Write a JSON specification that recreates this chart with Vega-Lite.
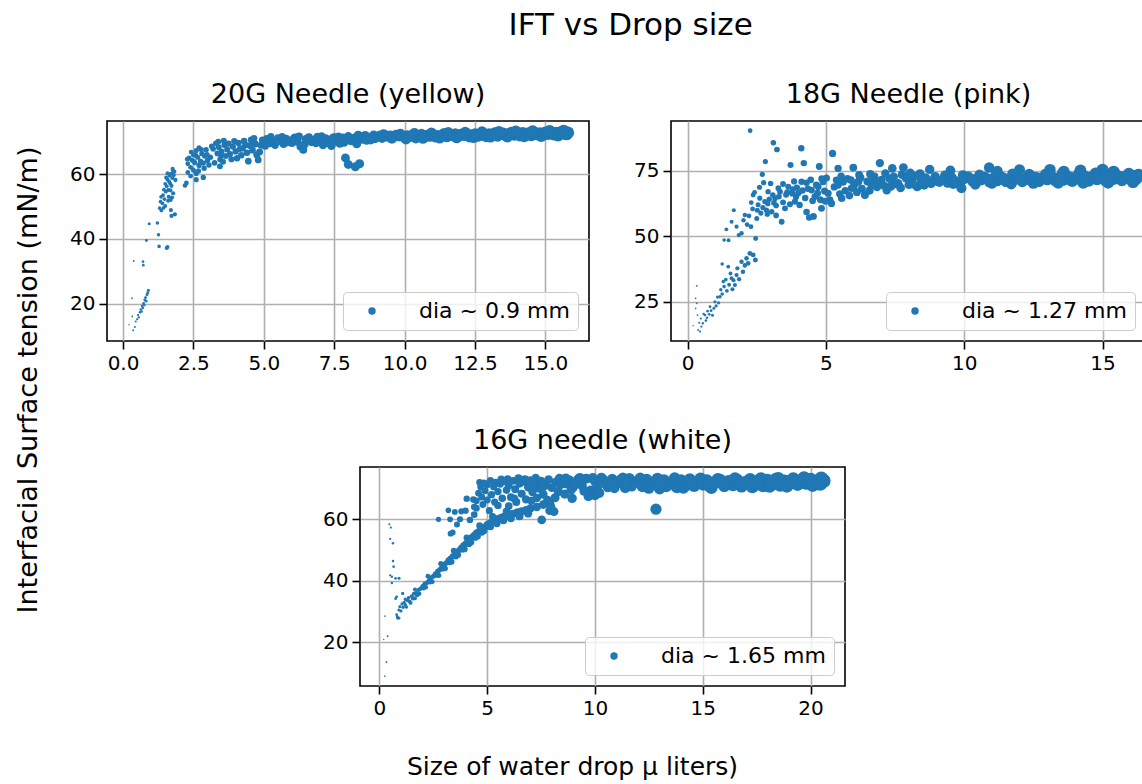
{
"$schema": "https://vega.github.io/schema/vega-lite/v6.json",
"padding": {"top": 10, "left": 0, "right": 0, "bottom": 0},
"background": "white",
"title": {"text": "IFT vs Drop size", "fontSize": 31, "fontWeight": "normal", "anchor": "middle", "dx": 57, "offset": 38},
"config": {
 "font": "DejaVu Sans",
 "view": {"stroke": "#000000", "strokeWidth": 1.6},
 "axis": {"domain": false, "grid": true, "gridColor": "#b0b0b0", "gridWidth": 1.6, "tickColor": "#000000", "tickSize": 8, "tickWidth": 1.6, "labelFontSize": 20, "labelColor": "#000000", "labelPadding": 4, "zindex": 1, "labelFlush": false, "labelOverlap": false, "titleFontSize": 25, "titleFontWeight": "normal", "titleColor": "#000000"},
 "title": {"fontSize": 27, "fontWeight": "normal", "color": "#000000", "offset": 12},
 "legend": {"orient": "bottom-right", "offset": 11, "padding": 8, "fillColor": "rgba(255,255,255,0.8)", "strokeColor": "#cccccc", "cornerRadius": 4, "labelFontSize": 22, "labelColor": "#000000", "labelLimit": 400, "symbolSize": 55, "symbolType": "circle", "symbolOffset": 10, "labelOffset": 36, "symbolStrokeWidth": 0}
},
"datasets": {
"d20": [
{"x":0.21,"y":13.5},{"x":0.36,"y":11.8},{"x":0.33,"y":16.1},{"x":0.32,"y":21.7},{"x":0.38,"y":33.2},{"x":0.45,"y":14.5},{"x":0.42,"y":12.8},{"x":0.5,"y":15.2},{"x":0.53,"y":16.5},{"x":0.56,"y":15.8},{"x":0.6,"y":17.4},{"x":0.63,"y":18.2},{"x":0.66,"y":17.6},{"x":0.68,"y":19.3},{"x":0.7,"y":18.7},{"x":0.73,"y":20.1},{"x":0.75,"y":19.6},{"x":0.77,"y":21.2},{"x":0.8,"y":21.9},{"x":0.82,"y":20.8},{"x":0.85,"y":22.8},{"x":0.88,"y":23.4},{"x":0.9,"y":24.2},{"x":0.71,"y":33.0},{"x":0.72,"y":31.9},{"x":0.83,"y":39.5},{"x":0.93,"y":44.7},{"x":1.22,"y":44.9},{"x":1.26,"y":41.3},{"x":1.28,"y":37.7},{"x":1.55,"y":37.2},{"x":1.58,"y":37.5},
{"x":1.3,"y":49.5},{"x":1.33,"y":51.5},{"x":1.36,"y":48.8},{"x":1.4,"y":51.0},{"x":1.42,"y":53.5},{"x":1.45,"y":55.2},{"x":1.47,"y":52.3},{"x":1.5,"y":57.0},{"x":1.52,"y":54.6},{"x":1.55,"y":56.3},{"x":1.57,"y":58.4},{"x":1.6,"y":55.1},{"x":1.62,"y":53.0},{"x":1.65,"y":59.5},{"x":1.67,"y":57.2},{"x":1.7,"y":60.1},{"x":1.72,"y":56.4},{"x":1.75,"y":58.8},{"x":1.78,"y":61.0},{"x":1.8,"y":59.7},{"x":1.82,"y":60.8},{"x":1.78,"y":54.1},{"x":1.7,"y":48.9},{"x":1.72,"y":47.1},{"x":1.84,"y":47.6},{"x":1.6,"y":51.8},{"x":1.5,"y":50.2},{"x":1.68,"y":55.0},{"x":1.74,"y":52.8},{"x":1.58,"y":60.3},
{"x":1.35,"y":53.0},{"x":1.44,"y":49.6},{"x":1.53,"y":59.0},{"x":1.63,"y":57.8},{"x":1.69,"y":52.0},{"x":1.76,"y":61.6},{"x":1.86,"y":58.2},
{"x":2.2,"y":56.5},{"x":2.25,"y":57.3},{"x":2.3,"y":60.5},{"x":2.3,"y":63.2},{"x":2.35,"y":65.0},{"x":2.4,"y":62.1},{"x":2.45,"y":64.3},{"x":2.5,"y":66.0},{"x":2.5,"y":61.2},{"x":2.55,"y":63.5},{"x":2.6,"y":58.3},{"x":2.6,"y":67.3},{"x":2.65,"y":65.2},{"x":2.7,"y":62.7},{"x":2.7,"y":68.1},{"x":2.75,"y":64.0},{"x":2.8,"y":66.3},{"x":2.85,"y":63.4},{"x":2.85,"y":59.0},{"x":2.9,"y":65.6},{"x":2.95,"y":67.5},{"x":3.0,"y":64.2},{"x":3.05,"y":62.8},{"x":2.6,"y":60.2},{"x":2.4,"y":59.4},
{"x":2.28,"y":64.6},{"x":2.42,"y":66.8},{"x":2.52,"y":63.9},{"x":2.58,"y":65.8},{"x":2.68,"y":61.0},{"x":2.78,"y":67.6},{"x":2.88,"y":61.8},{"x":2.98,"y":66.0},
{"x":3.2,"y":67.8},{"x":3.3,"y":69.5},{"x":3.35,"y":66.4},{"x":3.4,"y":68.3},{"x":3.45,"y":64.5},{"x":3.44,"y":62.4},{"x":3.5,"y":67.0},{"x":3.6,"y":69.0},{"x":3.65,"y":65.6},{"x":3.7,"y":67.6},{"x":3.8,"y":66.2},{"x":3.9,"y":68.5},{"x":4.0,"y":67.0},{"x":4.1,"y":69.6},{"x":4.2,"y":65.8},{"x":4.25,"y":68.0},{"x":4.3,"y":70.2},{"x":4.4,"y":66.6},{"x":4.5,"y":68.8},{"x":4.55,"y":70.6},{"x":4.6,"y":67.4},{"x":4.7,"y":69.3},{"x":4.8,"y":64.4},{"x":4.85,"y":66.8},{"x":4.9,"y":68.9},{"x":3.55,"y":63.8},{"x":4.05,"y":64.9},
{"x":3.1,"y":65.2},{"x":3.15,"y":68.6},{"x":3.25,"y":63.5},{"x":3.38,"y":70.0},{"x":3.48,"y":65.8},{"x":3.58,"y":70.3},{"x":3.75,"y":69.4},{"x":3.85,"y":64.6},{"x":3.95,"y":70.2},{"x":4.15,"y":67.8},{"x":4.35,"y":69.0},{"x":4.45,"y":64.0},{"x":4.65,"y":71.0},{"x":4.75,"y":65.9},{"x":4.95,"y":70.5},
{"x":5.0,"y":70.2},{"x":5.1,"y":71.0},{"x":5.2,"y":69.4},{"x":5.3,"y":70.6},{"x":5.4,"y":68.9},{"x":5.5,"y":71.2},{"x":5.6,"y":70.0},{"x":5.7,"y":69.2},{"x":5.8,"y":71.0},{"x":5.9,"y":70.3},{"x":6.0,"y":69.6},{"x":6.1,"y":71.3},{"x":6.2,"y":70.0},{"x":6.3,"y":68.5},{"x":6.4,"y":67.5},{"x":6.5,"y":70.8},{"x":6.6,"y":71.4},{"x":6.7,"y":69.9},{"x":6.8,"y":70.6},{"x":6.9,"y":71.5},{"x":7.0,"y":70.2},{"x":7.1,"y":69.0},{"x":7.2,"y":71.0},{"x":7.3,"y":70.5},{"x":7.4,"y":68.8},{"x":7.5,"y":71.3},{"x":7.6,"y":70.1},{"x":7.7,"y":69.5},{"x":7.8,"y":71.2},{"x":7.9,"y":70.7},{"x":8.0,"y":71.6},{"x":8.1,"y":70.3},{"x":8.2,"y":71.1},{"x":8.3,"y":69.4},{"x":8.4,"y":71.7},{"x":8.5,"y":70.8},{"x":8.6,"y":71.9},{"x":8.7,"y":71.2},{"x":8.8,"y":70.6},{"x":8.9,"y":72.0},{"x":9.0,"y":71.4},{"x":9.1,"y":71.9},{"x":9.2,"y":71.1},{"x":9.3,"y":72.1},{"x":9.4,"y":71.5},{"x":9.5,"y":72.0},{"x":9.6,"y":71.3},{"x":9.7,"y":72.2},{"x":9.8,"y":71.6},{"x":9.9,"y":72.0},
{"x":5.05,"y":68.6},{"x":5.25,"y":71.6},{"x":5.45,"y":70.0},{"x":5.65,"y":71.5},{"x":5.85,"y":69.8},{"x":6.05,"y":70.9},{"x":6.25,"y":71.6},{"x":6.45,"y":69.2},{"x":6.65,"y":70.5},{"x":6.85,"y":69.6},{"x":7.05,"y":71.6},{"x":7.25,"y":69.7},{"x":7.45,"y":71.1},{"x":7.65,"y":71.5},{"x":7.85,"y":69.8},{"x":8.05,"y":70.9},{"x":8.35,"y":72.0},{"x":8.65,"y":70.5},{"x":8.95,"y":71.0},{"x":9.25,"y":72.4},{"x":9.55,"y":70.9},{"x":9.85,"y":72.5},
{"x":7.9,"y":65.0},{"x":8.0,"y":63.0},{"x":8.25,"y":62.3},{"x":8.4,"y":63.2},
{"x":10.0,"y":71.2},{"x":10.1,"y":72.0},{"x":10.2,"y":71.5},{"x":10.3,"y":72.3},{"x":10.4,"y":71.0},{"x":10.5,"y":71.8},{"x":10.6,"y":72.4},{"x":10.7,"y":71.3},{"x":10.8,"y":72.1},{"x":10.9,"y":71.6},{"x":11.0,"y":72.5},{"x":11.1,"y":71.4},{"x":11.2,"y":72.0},{"x":11.3,"y":71.7},{"x":11.4,"y":72.6},{"x":11.5,"y":71.5},{"x":11.6,"y":72.2},{"x":11.7,"y":71.8},{"x":11.8,"y":72.5},{"x":11.9,"y":71.6},{"x":12.0,"y":72.3},{"x":12.1,"y":71.9},{"x":12.2,"y":72.6},{"x":12.3,"y":71.5},{"x":12.4,"y":72.1},{"x":12.5,"y":72.4},{"x":12.6,"y":71.7},{"x":12.7,"y":72.5},{"x":12.8,"y":72.0},{"x":12.9,"y":71.6},{"x":13.0,"y":72.4},{"x":13.1,"y":72.0},{"x":13.2,"y":72.7},{"x":13.3,"y":71.8},{"x":13.4,"y":72.3},{"x":13.5,"y":72.6},{"x":13.6,"y":71.9},{"x":13.7,"y":72.4},{"x":13.8,"y":72.8},{"x":13.9,"y":72.1},{"x":14.0,"y":72.5},{"x":14.1,"y":71.9},{"x":14.2,"y":72.7},{"x":14.3,"y":72.2},{"x":14.4,"y":72.6},{"x":14.5,"y":72.0},{"x":14.6,"y":72.8},{"x":14.7,"y":72.3},{"x":14.8,"y":72.6},{"x":14.9,"y":72.1},{"x":15.0,"y":72.8},{"x":15.1,"y":72.4},{"x":15.2,"y":72.9},{"x":15.3,"y":72.3},{"x":15.4,"y":72.7},{"x":15.5,"y":72.5},{"x":15.6,"y":73.0},{"x":15.7,"y":72.6},{"x":15.8,"y":72.8},{"x":15.75,"y":72.4},
{"x":10.05,"y":70.7},{"x":10.35,"y":72.7},{"x":10.65,"y":71.0},{"x":10.95,"y":72.8},{"x":11.25,"y":71.1},{"x":11.55,"y":72.9},{"x":11.85,"y":71.2},{"x":12.15,"y":72.9},{"x":12.45,"y":71.3},{"x":12.75,"y":73.0},{"x":13.05,"y":71.5},{"x":13.35,"y":73.1},{"x":13.65,"y":71.6},{"x":13.95,"y":73.2},{"x":14.25,"y":71.7},{"x":14.55,"y":73.2},{"x":14.85,"y":71.8},{"x":15.15,"y":73.3},{"x":15.45,"y":72.0},{"x":15.65,"y":73.3}
],
"d18": [
{"x":0.2,"y":15.8},{"x":0.29,"y":26.3},{"x":0.33,"y":31.1},{"x":0.33,"y":24.4},{"x":0.29,"y":22.5},{"x":0.36,"y":19.9},{"x":0.38,"y":14.2},{"x":0.42,"y":17.0},{"x":0.45,"y":13.6},{"x":0.5,"y":15.5},{"x":0.48,"y":18.6},{"x":0.55,"y":16.8},{"x":0.58,"y":20.3},{"x":0.63,"y":19.9},{"x":0.66,"y":17.8},{"x":0.7,"y":18.9},{"x":0.72,"y":21.4},{"x":0.78,"y":20.2},{"x":0.81,"y":23.1},{"x":0.85,"y":21.6},{"x":0.9,"y":19.8},{"x":0.95,"y":22.5},{"x":0.99,"y":25.0},{"x":1.03,"y":23.4},{"x":1.08,"y":26.8},{"x":1.12,"y":24.6},{"x":1.17,"y":26.9},{"x":1.2,"y":29.6},{"x":1.25,"y":28.0},{"x":1.29,"y":32.7},{"x":1.25,"y":39.4},{"x":1.32,"y":30.8},{"x":1.38,"y":33.5},{"x":1.42,"y":29.2},{"x":1.47,"y":38.4},{"x":1.5,"y":31.5},{"x":1.55,"y":35.8},{"x":1.59,"y":34.0},{"x":1.62,"y":29.8},{"x":1.66,"y":33.2},{"x":1.71,"y":31.4},{"x":1.77,"y":35.2},{"x":1.8,"y":37.8},{"x":1.86,"y":33.6},{"x":1.95,"y":40.3},{"x":2.0,"y":36.5},{"x":2.07,"y":38.9},{"x":2.13,"y":41.6},{"x":2.19,"y":39.7},{"x":2.25,"y":43.5},{"x":2.37,"y":42.9},{"x":2.45,"y":41.0},
{"x":1.32,"y":48.6},{"x":1.4,"y":52.7},{"x":1.48,"y":48.5},{"x":1.59,"y":55.6},{"x":1.67,"y":60.0},{"x":1.77,"y":53.7},{"x":1.85,"y":50.5},{"x":1.95,"y":51.2},{"x":2.02,"y":56.2},{"x":2.07,"y":58.2},{"x":2.15,"y":54.5},{"x":2.22,"y":57.8},{"x":2.26,"y":90.4},{"x":2.29,"y":53.7},{"x":2.35,"y":60.5},{"x":2.37,"y":65.8},{"x":2.42,"y":66.8},{"x":2.46,"y":49.2},{"x":2.5,"y":56.8},{"x":2.55,"y":62.1},{"x":2.61,"y":64.6},{"x":2.65,"y":58.9},{"x":2.7,"y":73.7},{"x":2.72,"y":61.0},{"x":2.79,"y":63.3},{"x":2.81,"y":78.6},{"x":2.85,"y":60.0},{"x":2.91,"y":67.1},{"x":2.95,"y":64.2},{"x":3.04,"y":59.4},{"x":3.08,"y":65.8},{"x":3.1,"y":85.8},{"x":3.16,"y":64.6},{"x":3.2,"y":61.8},{"x":3.23,"y":83.2},{"x":3.28,"y":68.4},{"x":3.34,"y":67.1},{"x":3.4,"y":55.6},{"x":3.45,"y":63.0},{"x":3.52,"y":60.7},{"x":3.56,"y":65.9},{"x":3.64,"y":69.0},{"x":3.7,"y":62.3},{"x":3.72,"y":77.3},{"x":3.78,"y":66.4},{"x":3.85,"y":71.0},{"x":3.88,"y":63.3},{"x":3.95,"y":68.6},{"x":4.0,"y":66.5},{"x":4.05,"y":62.0},{"x":4.11,"y":83.7},{"x":4.12,"y":70.9},{"x":4.2,"y":78.0},{"x":4.25,"y":64.7},{"x":4.3,"y":59.3},{"x":4.35,"y":68.2},{"x":4.4,"y":57.2},{"x":4.45,"y":71.6},{"x":4.48,"y":67.7},{"x":4.55,"y":57.6},{"x":4.6,"y":65.2},{"x":4.65,"y":69.7},{"x":4.72,"y":69.0},{"x":4.76,"y":76.7},{"x":4.8,"y":64.0},{"x":4.84,"y":60.7},{"x":4.9,"y":70.9},{"x":4.95,"y":67.3},{"x":5.02,"y":72.3},{"x":5.08,"y":66.5},{"x":5.14,"y":64.0},{"x":5.2,"y":62.6},{"x":5.24,"y":81.7},{"x":5.3,"y":68.9},{"x":5.38,"y":71.5},{"x":5.44,"y":69.6},{"x":5.44,"y":76.0},{"x":5.5,"y":66.2},{"x":5.57,"y":64.6},{"x":5.62,"y":70.8},{"x":5.7,"y":67.4},{"x":5.78,"y":72.0},{"x":5.85,"y":65.6},{"x":5.93,"y":68.4},{"x":5.99,"y":76.3},{"x":6.05,"y":70.2},{"x":6.12,"y":66.9},{"x":6.17,"y":70.9},{"x":6.25,"y":72.4},{"x":6.3,"y":68.2},{"x":6.41,"y":65.8},{"x":6.5,"y":71.0},{"x":6.58,"y":67.5},{"x":6.65,"y":69.6},{"x":6.75,"y":72.8},{"x":6.85,"y":68.8},{"x":6.95,"y":78.0},{"x":7.01,"y":71.6},{"x":7.1,"y":69.4},{"x":7.2,"y":67.6},{"x":7.3,"y":72.0},{"x":7.4,"y":76.0},{"x":7.5,"y":70.0},{"x":7.61,"y":70.3},{"x":7.7,"y":68.5},{"x":7.8,"y":76.3},{"x":7.9,"y":72.3},{"x":8.0,"y":69.8},{"x":8.1,"y":71.6},{"x":8.2,"y":73.0},{"x":8.3,"y":69.0},{"x":8.45,"y":71.2},{"x":8.6,"y":72.4},{"x":8.75,"y":75.6},{"x":8.8,"y":70.2},
{"x":2.6,"y":68.8},{"x":2.75,"y":70.5},{"x":2.9,"y":62.5},{"x":3.0,"y":70.2},{"x":3.12,"y":62.8},{"x":3.3,"y":65.2},{"x":3.45,"y":70.0},{"x":3.6,"y":66.9},{"x":3.8,"y":68.0},{"x":3.92,"y":65.0},{"x":4.15,"y":67.5},{"x":4.3,"y":70.5},{"x":4.52,"y":63.6},{"x":4.7,"y":66.5},{"x":4.85,"y":72.0},{"x":4.98,"y":63.4},{"x":2.3,"y":62.9},{"x":2.52,"y":60.0},{"x":2.88,"y":58.5},{"x":3.2,"y":58.0},
{"x":5.55,"y":73.0},{"x":5.9,"y":71.5},{"x":6.2,"y":73.5},{"x":6.6,"y":73.8},{"x":6.9,"y":70.2},{"x":7.15,"y":74.0},{"x":7.45,"y":72.8},{"x":7.75,"y":73.6},{"x":8.05,"y":74.2},{"x":8.4,"y":73.9},{"x":8.7,"y":71.3},{"x":6.0,"y":69.0},{"x":6.7,"y":70.9},{"x":7.35,"y":69.1},{"x":8.15,"y":70.0},{"x":8.55,"y":69.6},
{"x":8.95,"y":72.8},{"x":9.1,"y":70.7},{"x":9.25,"y":71.9},{"x":9.4,"y":70.4},{"x":9.5,"y":75.2},{"x":9.55,"y":72.5},{"x":9.7,"y":71.1},{"x":9.85,"y":69.6},{"x":9.9,"y":68.4},{"x":10.0,"y":71.8},{"x":10.15,"y":72.9},{"x":10.3,"y":70.9},{"x":10.45,"y":72.1},{"x":10.6,"y":71.4},{"x":10.75,"y":72.7},{"x":10.9,"y":70.8},{"x":10.9,"y":76.3},{"x":11.05,"y":72.3},{"x":11.2,"y":71.2},{"x":11.2,"y":75.0},{"x":11.35,"y":72.8},{"x":11.5,"y":70.9},{"x":11.65,"y":72.0},{"x":11.8,"y":71.5},{"x":11.95,"y":72.9},{"x":12.0,"y":75.5},{"x":12.1,"y":70.9},{"x":12.25,"y":72.3},{"x":12.4,"y":71.4},{"x":12.55,"y":72.6},{"x":12.7,"y":71.0},{"x":12.85,"y":72.4},{"x":13.0,"y":71.7},{"x":13.1,"y":75.5},{"x":13.15,"y":72.9},{"x":13.3,"y":71.2},{"x":13.45,"y":72.2},{"x":13.6,"y":71.6},{"x":13.6,"y":74.8},{"x":13.75,"y":72.8},{"x":13.9,"y":71.1},{"x":14.05,"y":72.5},{"x":14.2,"y":71.8},{"x":14.2,"y":75.2},{"x":14.35,"y":72.9},{"x":14.5,"y":71.3},{"x":14.65,"y":72.4},{"x":14.8,"y":71.9},{"x":14.95,"y":73.0},{"x":15.0,"y":75.4},{"x":15.1,"y":71.5},{"x":15.25,"y":72.6},{"x":15.4,"y":72.0},{"x":15.4,"y":74.6},{"x":15.55,"y":72.9},{"x":15.7,"y":71.6},{"x":15.85,"y":72.7},{"x":16.0,"y":72.2},{"x":16.15,"y":72.9},{"x":16.3,"y":73.4},{"x":16.2,"y":72.0},
{"x":9.0,"y":71.2},{"x":9.3,"y":73.3},{"x":9.6,"y":70.0},{"x":9.95,"y":73.4},{"x":10.25,"y":72.0},{"x":10.55,"y":73.6},{"x":10.85,"y":71.9},{"x":11.15,"y":73.8},{"x":11.45,"y":72.2},{"x":11.75,"y":73.9},{"x":12.05,"y":72.1},{"x":12.35,"y":73.7},{"x":12.65,"y":72.4},{"x":12.95,"y":73.8},{"x":13.25,"y":72.3},{"x":13.55,"y":74.0},{"x":13.85,"y":72.4},{"x":14.15,"y":73.9},{"x":14.45,"y":72.5},{"x":14.75,"y":74.0},{"x":15.05,"y":72.4},{"x":15.35,"y":73.9},{"x":15.65,"y":72.6},{"x":15.95,"y":73.8},{"x":16.25,"y":72.8},{"x":10.4,"y":69.8},{"x":11.0,"y":70.2},{"x":11.7,"y":70.0},{"x":12.5,"y":70.3},{"x":13.4,"y":70.4},{"x":14.3,"y":70.5},{"x":15.2,"y":70.6},{"x":16.1,"y":70.9}
],
"d16": [
{"x":0.26,"y":28.5},{"x":0.2,"y":20.9},{"x":0.38,"y":22.0},{"x":0.33,"y":13.6},{"x":0.25,"y":9.0},{"x":0.46,"y":58.4},{"x":0.53,"y":57.3},{"x":0.5,"y":53.6},{"x":0.63,"y":52.2},{"x":0.63,"y":46.4},{"x":0.66,"y":44.6},{"x":0.5,"y":41.8},{"x":0.58,"y":41.3},{"x":0.58,"y":39.3},{"x":0.75,"y":40.8},{"x":0.91,"y":40.8},{"x":0.75,"y":34.2},{"x":0.8,"y":34.8},{"x":0.83,"y":28.3},{"x":0.91,"y":27.9},{"x":1.08,"y":35.9},
{"x":0.8,"y":29.0},{"x":0.85,"y":27.8},{"x":0.9,"y":30.5},{"x":0.95,"y":31.6},{"x":1.0,"y":30.2},{"x":1.05,"y":32.5},{"x":1.1,"y":31.4},{"x":1.15,"y":33.0},{"x":1.2,"y":32.2},{"x":1.3,"y":33.6},{"x":1.35,"y":34.5},{"x":1.4,"y":33.3},{"x":1.5,"y":35.0},{"x":1.55,"y":34.2},{"x":1.6,"y":35.8},{"x":1.7,"y":36.0},{"x":1.75,"y":35.3},{"x":1.8,"y":37.0},{"x":1.9,"y":37.4},{"x":2.0,"y":38.2},{"x":2.05,"y":37.6},{"x":2.1,"y":39.0},{"x":2.2,"y":39.3},{"x":2.3,"y":40.1},{"x":2.35,"y":39.6},{"x":2.4,"y":41.0},{"x":2.5,"y":41.5},{"x":2.6,"y":42.3},{"x":2.65,"y":41.8},{"x":2.7,"y":43.1},{"x":2.8,"y":43.6},{"x":2.9,"y":44.5},{"x":2.95,"y":43.9},{"x":3.0,"y":45.2},{"x":3.1,"y":45.8},{"x":3.2,"y":46.7},{"x":3.25,"y":46.0},{"x":3.3,"y":47.3},{"x":3.4,"y":48.0},{"x":3.5,"y":48.6},{"x":3.55,"y":47.9},{"x":3.6,"y":49.4},{"x":3.7,"y":50.0},{"x":3.8,"y":50.8},{"x":3.85,"y":50.2},{"x":3.9,"y":51.5},{"x":4.0,"y":52.1},{"x":4.1,"y":52.8},{"x":4.15,"y":52.0},{"x":4.2,"y":53.6},{"x":4.3,"y":54.2},{"x":4.4,"y":54.9},{"x":4.45,"y":54.1},{"x":4.5,"y":55.6},{"x":4.6,"y":56.0},{"x":4.7,"y":56.7},{"x":4.75,"y":55.8},{"x":4.8,"y":57.3},{"x":4.9,"y":57.5},{"x":5.0,"y":58.3},{"x":5.1,"y":58.7},{"x":5.2,"y":59.0},{"x":5.3,"y":59.6},{"x":5.4,"y":59.4},{"x":5.5,"y":60.2},{"x":5.65,"y":60.6},{"x":5.8,"y":61.0},{"x":6.0,"y":61.4},{"x":6.2,"y":61.8},{"x":6.4,"y":62.3},{"x":6.6,"y":62.6},{"x":6.8,"y":63.0},{"x":7.0,"y":63.5},{"x":7.3,"y":64.0},{"x":7.6,"y":64.8},{"x":7.9,"y":65.3},
{"x":1.25,"y":31.5},{"x":1.45,"y":32.8},{"x":1.65,"y":34.3},{"x":1.85,"y":35.8},{"x":2.15,"y":37.9},{"x":2.45,"y":39.7},{"x":2.75,"y":41.8},{"x":3.05,"y":44.0},{"x":3.35,"y":46.2},{"x":3.65,"y":48.4},{"x":3.95,"y":50.3},{"x":4.25,"y":52.5},{"x":4.55,"y":54.5},{"x":4.85,"y":56.3},{"x":5.15,"y":57.6},{"x":5.45,"y":58.6},{"x":5.75,"y":59.6},{"x":6.1,"y":60.3},{"x":6.5,"y":61.0},{"x":6.9,"y":61.9},{"x":1.2,"y":34.0},{"x":1.65,"y":37.2},{"x":2.25,"y":41.5},{"x":2.85,"y":45.6},{"x":3.45,"y":49.8},{"x":4.05,"y":54.0},{"x":4.65,"y":57.9},{"x":5.25,"y":60.9},{"x":5.9,"y":62.6},
{"x":2.74,"y":60.0},{"x":3.28,"y":60.0},{"x":3.74,"y":60.0},{"x":3.2,"y":62.9},{"x":3.5,"y":62.4},{"x":3.8,"y":62.6},{"x":4.0,"y":62.8},{"x":3.3,"y":55.3},{"x":3.4,"y":55.7},{"x":3.6,"y":58.3},{"x":4.05,"y":66.7},{"x":4.36,"y":66.4},{"x":4.5,"y":63.6},{"x":4.2,"y":59.8},{"x":4.4,"y":61.5},{"x":4.7,"y":70.5},{"x":4.4,"y":64.0},
{"x":4.5,"y":66.0},{"x":4.6,"y":68.5},{"x":4.75,"y":67.2},{"x":4.8,"y":64.8},{"x":4.9,"y":69.3},{"x":5.0,"y":71.2},{"x":5.0,"y":66.3},{"x":5.1,"y":62.8},{"x":5.2,"y":68.0},{"x":5.3,"y":70.6},{"x":5.4,"y":72.0},{"x":5.5,"y":64.5},{"x":5.5,"y":69.0},{"x":5.6,"y":71.5},{"x":5.7,"y":66.8},{"x":5.8,"y":72.3},{"x":5.9,"y":69.5},{"x":6.0,"y":64.3},{"x":6.0,"y":71.0},{"x":6.1,"y":67.2},{"x":6.2,"y":72.5},{"x":6.3,"y":69.8},{"x":6.35,"y":65.6},{"x":6.5,"y":71.6},{"x":6.6,"y":68.3},{"x":6.7,"y":72.2},{"x":6.8,"y":66.5},{"x":6.9,"y":70.4},{"x":7.0,"y":72.6},{"x":7.1,"y":68.9},{"x":7.2,"y":71.3},{"x":7.3,"y":66.9},{"x":7.4,"y":70.0},{"x":7.5,"y":72.4},{"x":7.53,"y":59.8},{"x":7.6,"y":68.1},{"x":7.7,"y":71.0},{"x":7.8,"y":66.2},{"x":7.9,"y":62.8},{"x":7.95,"y":64.2},{"x":8.0,"y":70.3},{"x":8.1,"y":62.5},{"x":8.2,"y":72.1},{"x":8.3,"y":69.0},{"x":8.4,"y":71.2},{"x":8.5,"y":73.0},{"x":8.6,"y":68.2},{"x":8.7,"y":71.5},{"x":8.8,"y":72.8},{"x":8.94,"y":66.8},{"x":9.0,"y":70.5},{"x":9.2,"y":72.9},{"x":9.4,"y":71.0},{"x":9.6,"y":73.2},{"x":9.7,"y":67.5},{"x":9.8,"y":69.4},{"x":10.0,"y":72.4},{"x":10.0,"y":67.8},{"x":10.2,"y":68.6},
{"x":4.65,"y":72.0},{"x":4.85,"y":71.8},{"x":5.15,"y":72.6},{"x":5.35,"y":65.6},{"x":5.65,"y":73.0},{"x":5.95,"y":73.1},{"x":6.25,"y":66.8},{"x":6.45,"y":73.3},{"x":6.75,"y":73.0},{"x":7.05,"y":66.0},{"x":7.25,"y":73.4},{"x":7.55,"y":70.2},{"x":7.85,"y":72.9},{"x":8.15,"y":67.0},{"x":8.35,"y":73.3},{"x":8.65,"y":73.4},{"x":8.9,"y":69.6},{"x":9.1,"y":71.5},{"x":9.3,"y":73.5},{"x":9.5,"y":69.2},{"x":9.9,"y":73.4},{"x":10.1,"y":70.4},{"x":10.3,"y":73.5},
{"x":10.4,"y":72.8},{"x":10.6,"y":70.5},{"x":10.8,"y":73.1},{"x":11.0,"y":71.6},{"x":11.2,"y":72.9},{"x":11.4,"y":70.3},{"x":11.6,"y":73.3},{"x":11.8,"y":71.8},{"x":12.0,"y":72.6},{"x":12.2,"y":70.6},{"x":12.4,"y":73.0},{"x":12.6,"y":71.4},{"x":12.83,"y":63.3},{"x":12.8,"y":72.5},{"x":13.0,"y":69.9},{"x":13.2,"y":72.8},{"x":13.4,"y":71.2},{"x":13.6,"y":72.3},{"x":13.8,"y":70.4},{"x":14.0,"y":72.7},{"x":14.2,"y":71.0},{"x":14.4,"y":73.0},{"x":14.6,"y":70.8},{"x":14.8,"y":72.1},{"x":15.0,"y":71.3},{"x":15.2,"y":72.6},{"x":15.4,"y":70.2},{"x":15.6,"y":71.9},{"x":15.8,"y":72.8},{"x":16.0,"y":70.9},{"x":16.2,"y":72.3},{"x":16.4,"y":71.2},{"x":16.6,"y":72.7},{"x":16.8,"y":70.8},{"x":17.0,"y":72.0},{"x":17.2,"y":72.9},{"x":17.4,"y":71.3},{"x":17.6,"y":72.4},{"x":17.8,"y":71.0},{"x":18.0,"y":72.6},{"x":18.2,"y":71.5},{"x":18.4,"y":72.9},{"x":18.6,"y":71.2},{"x":18.8,"y":72.3},{"x":19.0,"y":71.7},{"x":19.2,"y":73.0},{"x":19.4,"y":71.5},{"x":19.6,"y":72.5},{"x":19.8,"y":71.9},{"x":20.0,"y":72.8},{"x":20.2,"y":71.8},{"x":20.4,"y":72.6},{"x":20.6,"y":72.5},{"x":20.5,"y":73.2},
{"x":10.5,"y":71.6},{"x":10.9,"y":70.2},{"x":11.3,"y":73.5},{"x":11.7,"y":70.8},{"x":12.1,"y":73.4},{"x":12.5,"y":70.1},{"x":12.9,"y":73.3},{"x":13.3,"y":70.7},{"x":13.7,"y":73.4},{"x":14.1,"y":70.2},{"x":14.5,"y":71.8},{"x":14.9,"y":73.2},{"x":15.3,"y":70.9},{"x":15.7,"y":73.0},{"x":16.1,"y":71.8},{"x":16.5,"y":73.2},{"x":16.9,"y":71.5},{"x":17.3,"y":70.6},{"x":17.7,"y":73.1},{"x":18.1,"y":70.8},{"x":18.5,"y":73.2},{"x":18.9,"y":70.9},{"x":19.3,"y":72.2},{"x":19.7,"y":73.3},{"x":20.1,"y":71.2},{"x":20.45,"y":71.6}
]
},
"spacing": 10,
"hconcat": [
 {"width": 56, "height": 518, "view": {"stroke": "transparent"},
  "data": {"values": [{"t": "Interfacial Surface tension (mN/m)"}]},
  "mark": {"type": "text", "angle": 270, "fontSize": 27, "baseline": "middle", "align": "center", "color": "#000000"},
  "encoding": {"text": {"field": "t", "type": "nominal"}}},
 {"spacing": 52,
  "resolve": {"scale": {"x": "independent", "y": "independent", "color": "independent", "size": "independent"}, "legend": {"color": "independent"}},
  "vconcat": [
  {"spacing": 42,
   "resolve": {"scale": {"x": "independent", "y": "independent", "color": "independent", "size": "independent"}, "legend": {"color": "independent"}},
   "hconcat": [
    {"width": 482, "height": 220, "title": "20G Needle (yellow)",
     "data": {"name": "d20"},
     "mark": {"type": "circle", "opacity": 1},
     "encoding": {
      "x": {"field": "x", "type": "quantitative", "scale": {"domain": [-0.57, 16.55], "nice": false, "zero": false}, "axis": {"values": [0, 2.5, 5, 7.5, 10, 12.5, 15], "format": ".1f", "title": null}},
      "y": {"field": "y", "type": "quantitative", "scale": {"domain": [8.5, 76.4], "nice": false, "zero": false}, "axis": {"values": [20, 40, 60], "title": null}},
      "size": {"field": "x", "type": "quantitative", "scale": {"type": "linear", "domain": [0, 20], "range": [0, 200], "zero": true}, "legend": null},
      "color": {"datum": "dia ~ 0.9 mm", "type": "nominal", "scale": {"range": ["#1f77b4"]}, "legend": {"title": null}}
     }},
    {"width": 475, "height": 220, "title": "18G Needle (pink)",
     "data": {"name": "d18"},
     "mark": {"type": "circle", "opacity": 1},
     "encoding": {
      "x": {"field": "x", "type": "quantitative", "scale": {"domain": [-0.6, 16.57], "nice": false, "zero": false}, "axis": {"values": [0, 5, 10, 15], "title": null}},
      "y": {"field": "y", "type": "quantitative", "scale": {"domain": [10, 94.1], "nice": false, "zero": false}, "axis": {"values": [25, 50, 75], "title": null}},
      "size": {"field": "x", "type": "quantitative", "scale": {"type": "linear", "domain": [0, 20], "range": [0, 200], "zero": true}, "legend": null},
      "color": {"datum": "dia ~ 1.27 mm", "type": "nominal", "scale": {"range": ["#1f77b4"]}, "legend": {"title": null}}
     }}
   ]},
  {"spacing": 20,
   "resolve": {"scale": {"x": "independent", "y": "independent", "color": "independent", "size": "independent"}, "legend": {"color": "independent"}},
   "hconcat": [
    {"width": 193, "height": 10, "view": {"stroke": "transparent"}, "data": {"values": []}, "mark": "point", "encoding": {}},
    {"width": 485, "height": 219, "title": "16G needle (white)",
     "data": {"name": "d16"},
     "mark": {"type": "circle", "opacity": 1},
     "encoding": {
      "x": {"field": "x", "type": "quantitative", "scale": {"domain": [-0.9, 21.6], "nice": false, "zero": false}, "axis": {"values": [0, 5, 10, 15, 20], "title": "Size of water drop μ liters)", "titlePadding": 36, "titleX": 212}},
      "y": {"field": "y", "type": "quantitative", "scale": {"domain": [5.8, 77.0], "nice": false, "zero": false}, "axis": {"values": [20, 40, 60], "title": null}},
      "size": {"field": "x", "type": "quantitative", "scale": {"type": "linear", "domain": [0, 20], "range": [0, 200], "zero": true}, "legend": null},
      "color": {"datum": "dia ~ 1.65 mm", "type": "nominal", "scale": {"range": ["#1f77b4"]}, "legend": {"title": null}}
     }}
   ]}
 ]}
]
}
